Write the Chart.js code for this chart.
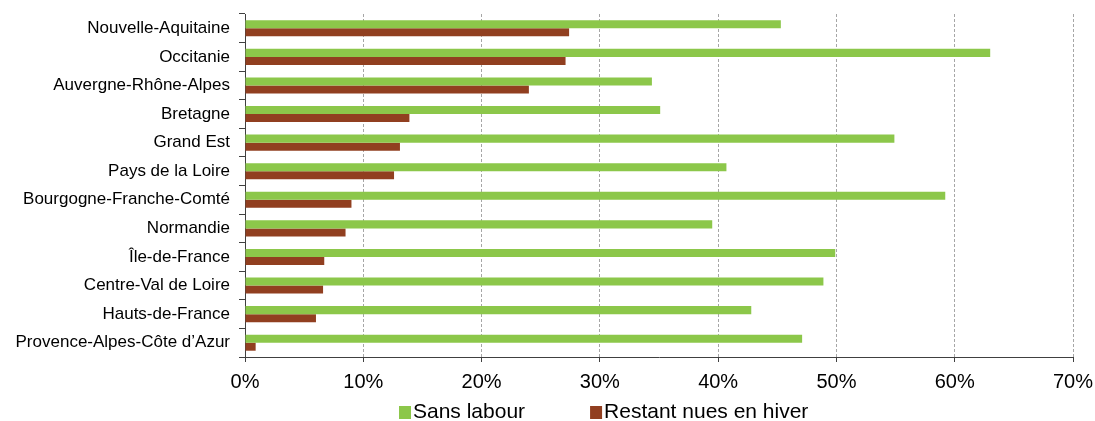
<!DOCTYPE html>
<html>
<head>
<meta charset="utf-8">
<script src="https://cdn.jsdelivr.net/npm/chart.js@4/dist/chart.umd.min.js"></script>
<style>
  html, body { margin: 0; padding: 0; background: #fff; }
  #wrap { width: 1095px; height: 421px; }
</style>
</head>
<body>
<div id="wrap"><canvas id="regionsChart" width="1095" height="421"></canvas></div>
<script>
const regions = [
    'Nouvelle-Aquitaine',
    'Occitanie',
    'Auvergne-Rhône-Alpes',
    'Bretagne',
    'Grand Est',
    'Pays de la Loire',
    'Bourgogne-Franche-Comté',
    'Normandie',
    'Île-de-France',
    'Centre-Val de Loire',
    'Hauts-de-France',
    'Provence-Alpes-Côte d’Azur'
]
const sansLabour = [45.3, 63.0, 34.4, 35.1, 54.9, 40.7, 59.2, 39.5, 49.9, 48.9, 42.8, 47.1]
const restantNues = [27.4, 27.1, 24.0, 13.9, 13.1, 12.6, 9.0, 8.5, 6.7, 6.6, 6.0, 0.9]
const seriesLabels = ['Sans labour', 'Restant nues en hiver']
const seriesColors = ['#8cc74a', '#913f20']
const xMax = 70
const xStep = 10

const FONT = '"Liberation Sans", Arial, sans-serif'

// legend drawn by hand so spacing can match the original
const bottomLegend = {
    id: 'bottomLegend',
    afterDraw(chart) {
        const ctx = chart.ctx
        ctx.save()
        ctx.font = '21px ' + FONT
        ctx.textBaseline = 'middle'
        ctx.fillStyle = '#000'
        let x = 399
        const y = 412
        chart.data.datasets.forEach((ds) => {
            ctx.fillStyle = ds.backgroundColor
            ctx.fillRect(x, y - 6, 12, 13)
            ctx.fillStyle = '#000'
            ctx.fillText(ds.label, x + 14, y)
            x += 14 + ctx.measureText(ds.label).width + 65
        })
        ctx.restore()
    }
}

const ctl = document.getElementById('regionsChart')
new Chart(ctl, {
    type: 'bar',
    data: {
        labels: regions,
        datasets: [
            {
                label: seriesLabels[0],
                data: sansLabour,
                backgroundColor: seriesColors[0],
                borderWidth: 0
            },
            {
                label: seriesLabels[1],
                data: restantNues,
                backgroundColor: seriesColors[1],
                borderWidth: 0
            }
        ]
    },
    options: {
        indexAxis: 'y',
        responsive: false,
        animation: false,
        devicePixelRatio: 1,
        categoryPercentage: 0.56,
        barPercentage: 1,
        layout: {
            padding: { top: 14, right: 22, left: 0, bottom: 0 }
        },
        plugins: {
            legend: { display: false },
            tooltip: { enabled: false }
        },
        scales: {
            x: {
                type: 'linear',
                min: 0,
                max: xMax,
                afterFit: (scale) => {
                    scale.height = 64
                    scale.paddingLeft = 0
                    scale.paddingRight = 0
                },
                ticks: {
                    stepSize: xStep,
                    padding: 8,
                    color: '#000',
                    font: { family: FONT, size: 20 },
                    callback: (v) => v + '%'
                },
                grid: {
                    color: '#a6a6a6',
                    lineWidth: 1,
                    tickColor: '#404040',
                    tickLength: 5,
                    tickBorderDash: []
                },
                border: { color: '#404040', width: 1, dash: [3, 2] }
            },
            y: {
                type: 'category',
                afterFit: (scale) => {
                    scale.width = 245
                    scale.paddingTop = 0
                    scale.paddingBottom = 0
                },
                ticks: {
                    autoSkip: false,
                    padding: 9,
                    color: '#000',
                    font: { family: FONT, size: 17 }
                },
                grid: {
                    offset: true,
                    drawOnChartArea: false,
                    drawTicks: true,
                    tickLength: 6,
                    tickColor: '#404040',
                    color: '#404040'
                },
                border: { color: '#404040', width: 1 }
            }
        }
    },
    plugins: [bottomLegend]
})
</script>
</body>
</html>
